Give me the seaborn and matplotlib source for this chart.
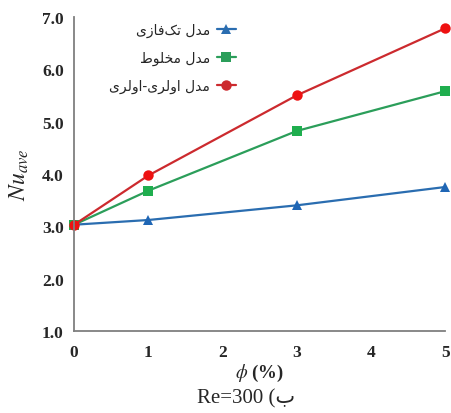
import pandas as pd
import matplotlib
matplotlib.use("Agg")
import matplotlib.pyplot as plt
import seaborn as sns

# volume fraction (%) and average Nusselt number
phi = [0, 1, 3, 5]
nu_single = [3.03, 3.12, 3.40, 3.75]
nu_mixture = [3.03, 3.68, 4.82, 5.58]
nu_euler = [3.03, 3.97, 5.50, 6.78]

models = ["مدل تک\u200cفازی", "مدل مخلوط", "مدل اولری-اولری"]
caption_letter = "ب"
caption_re = "Re=300"

# matplotlib has no arabic shaping: pick presentation forms by hand
FORMS = {
    "ا": ("\uFE8D", "\uFE8E", None, None),
    "ب": ("\uFE8F", "\uFE90", "\uFE91", "\uFE92"),
    "ت": ("\uFE95", "\uFE96", "\uFE97", "\uFE98"),
    "خ": ("\uFEA5", "\uFEA6", "\uFEA7", "\uFEA8"),
    "د": ("\uFEA9", "\uFEAA", None, None),
    "ر": ("\uFEAD", "\uFEAE", None, None),
    "ز": ("\uFEAF", "\uFEB0", None, None),
    "ط": ("\uFEC1", "\uFEC2", "\uFEC3", "\uFEC4"),
    "ف": ("\uFED1", "\uFED2", "\uFED3", "\uFED4"),
    "ل": ("\uFEDD", "\uFEDE", "\uFEDF", "\uFEE0"),
    "م": ("\uFEE1", "\uFEE2", "\uFEE3", "\uFEE4"),
    "و": ("\uFEED", "\uFEEE", None, None),
    "ی": ("\uFBFC", "\uFBFD", "\uFBFE", "\uFBFF"),
    "ک": ("\uFB8E", "\uFB8F", "\uFB90", "\uFB91"),
}


def shape(text):
    out = []
    for i, c in enumerate(text):
        if c not in FORMS:
            if c != "\u200c":
                out.append(c)
            continue
        prev = text[i - 1] if i > 0 else None
        nxt = text[i + 1] if i + 1 < len(text) else None
        iso, fin, ini, med = FORMS[c]
        jp = prev in FORMS and FORMS[prev][2] is not None
        jn = nxt in FORMS and ini is not None
        if jp and jn:
            out.append(med)
        elif jp:
            out.append(fin)
        elif jn:
            out.append(ini)
        else:
            out.append(iso)
    return "".join(reversed(out))


labels = [shape(m) for m in models]

df = pd.concat([
    pd.DataFrame({"phi": phi, "Nu": nu_single, "model": labels[0]}),
    pd.DataFrame({"phi": phi, "Nu": nu_mixture, "model": labels[1]}),
    pd.DataFrame({"phi": phi, "Nu": nu_euler, "model": labels[2]}),
])

sns.set_style("white")
plt.rcParams["mathtext.fontset"] = "stix"
serif = ["Liberation Serif", "DejaVu Sans"]

line_cols = {labels[0]: "#2a6db0", labels[1]: "#2b9e5a", labels[2]: "#cc2a2e"}
mark_cols = ["#1f66b5", "#1fae4e", "#ee1111"]
markers = {labels[0]: "^", labels[1]: "s", labels[2]: "o"}

fig = plt.figure(figsize=(4.52, 4.14), dpi=100)
ax = fig.add_axes([0.164, 0.198, 0.821, 0.759])

sns.lineplot(data=df, x="phi", y="Nu", hue="model", style="model",
             palette=line_cols, markers=markers, dashes=False,
             linewidth=1.6, markersize=7.5, markeredgewidth=0,
             ax=ax, clip_on=False)

for line, mc in zip(ax.lines, mark_cols):
    line.set_markerfacecolor(mc)
    line.set_markeredgecolor(mc)

ax.set_xlim(0, 5)
ax.set_ylim(1, 7)
ax.set_xticks(range(0, 6))
ax.set_yticks([1, 2, 3, 4, 5, 6, 7])
ax.set_yticklabels([f"{v:.1f}" for v in range(1, 8)])

for side in ["top", "right"]:
    ax.spines[side].set_visible(False)
for side in ["left", "bottom"]:
    ax.spines[side].set_color("#7f7f7f")
    ax.spines[side].set_linewidth(1.3)

ax.tick_params(axis="both", direction="inout", length=5, width=1.1,
               color="#7f7f7f", labelsize=12.5, pad=5)
ax.tick_params(axis="x", pad=7)
for t in ax.get_xticklabels() + ax.get_yticklabels():
    t.set_family(serif)
    t.set_fontweight("bold")

ax.set_xlabel(r"$\phi$ (%)", fontsize=13.5, fontweight="bold",
              family=serif, labelpad=1)
ax.set_ylabel(r"$Nu_{ave}$", fontsize=17, labelpad=8)

handles, _ = ax.get_legend_handles_labels()
ax.legend(handles, labels, loc="upper left", bbox_to_anchor=(0.06, 1.02),
          frameon=False, markerfirst=False, handlelength=1.4,
          handletextpad=0.5, labelspacing=1.0,
          prop={"family": "DejaVu Sans", "size": 10})

fig.text(0.545, 0.025, caption_re + " (" + shape(caption_letter),
         ha="center", va="baseline", fontsize=15, family=serif)

fig.savefig("out.png", dpi=100)
